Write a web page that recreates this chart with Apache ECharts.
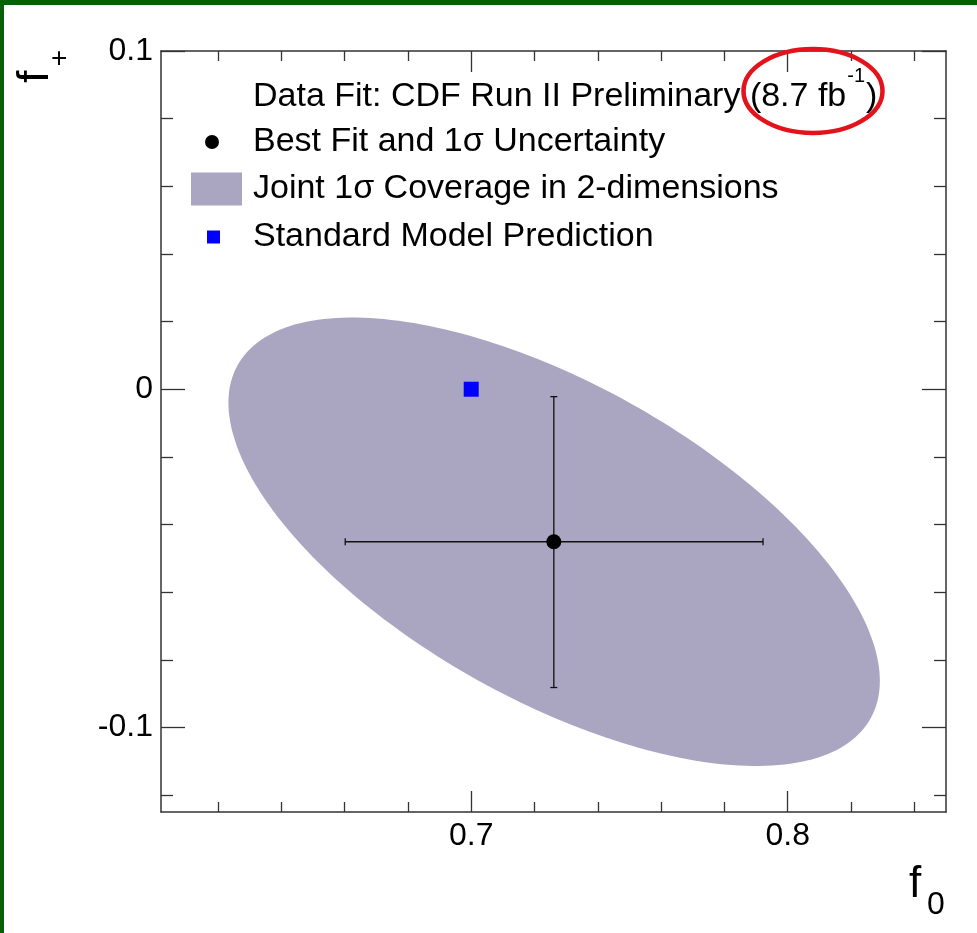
<!DOCTYPE html>
<html><head><meta charset="utf-8">
<script src="https://cdn.jsdelivr.net/npm/echarts@6.0.0/dist/echarts.min.js"></script>
<style>html,body{margin:0;padding:0;background:#fff}#c{width:977px;height:933px}</style>
</head><body><div id="c"></div>
<script>
// ---- axis ranges and ticks ----
const xRange = [0.602, 0.85];
const yRange = [-0.125, 0.1];
const xMajorTicks = [0.7, 0.8];
const xTickLabels = ['0.7', '0.8'];
const xMinorTicks = [0.62, 0.64, 0.66, 0.68, 0.72, 0.74, 0.76, 0.78, 0.82, 0.84];
const yMajorTicks = [-0.1, 0, 0.1];
const yTickLabels = ['-0.1', '0', '0.1'];
const yMinorTicks = [-0.12, -0.08, -0.06, -0.04, -0.02, 0.02, 0.04, 0.06, 0.08];

// ---- data ----
const bestFit = [0.7261, -0.0451];          // [f0, f+]
const bestFitErrX = [0.6602, 0.7922];       // f0 1σ low/high
const bestFitErrY = [-0.0882, -0.0022];     // f+ 1σ low/high
const ellipseCenter = [0.7262, -0.0451];    // joint 1σ region centre
const ellipseHalfExtent = [0.1029, 0.0663]; // half extents along f0, f+
const ellipseCorrelation = -0.62;           // f0–f+ correlation
const smPrediction = [0.7, 0.0];

const seriesNames = ['Best Fit and 1σ Uncertainty', 'Joint 1σ Coverage in 2-dimensions', 'Standard Model Prediction'];
const headerText = 'Data Fit: CDF Run II Preliminary (8.7 fb';
const headerSup = '-1';
const headerEnd = ')';

const FONT = "'Liberation Sans', Arial, Helvetica, sans-serif";
const ellipseColor = '#aaa6c1';
const axisColor = '#333';
const LFS = 34; // legend font size

function measure(txt, size) {
  const ctx = document.createElement('canvas').getContext('2d');
  ctx.font = size + 'px ' + FONT;
  return ctx.measureText(txt).width;
}

function xAxisDef(pos, ticks, len, showLine, labels) {
  return {
    type: 'value', gridIndex: 0, position: pos, min: xRange[0], max: xRange[1],
    splitLine: {show: false},
    axisLine: {show: showLine, onZero: false, lineStyle: {color: axisColor, width: 1.5}},
    axisTick: {show: true, inside: true, length: len, customValues: ticks, lineStyle: {color: axisColor, width: 1.3}},
    axisLabel: labels ? {show: true, customValues: xMajorTicks, margin: 8, fontSize: 32, fontFamily: FONT, color: '#000',
      formatter: v => { const i = xMajorTicks.findIndex(t => Math.abs(t - v) < 1e-9); return i >= 0 ? xTickLabels[i] : ''; }} : {show: false}
  };
}
function yAxisDef(pos, ticks, len, showLine, labels) {
  return {
    type: 'value', gridIndex: 0, position: pos, min: yRange[0], max: yRange[1],
    splitLine: {show: false},
    axisLine: {show: showLine, onZero: false, lineStyle: {color: axisColor, width: 1.5}},
    axisTick: {show: true, inside: true, length: len, customValues: ticks, lineStyle: {color: axisColor, width: 1.3}},
    axisLabel: labels ? {show: true, customValues: yMajorTicks, margin: 8, fontSize: 32, fontFamily: FONT, color: '#000',
      showMinLabel: true, showMaxLabel: true,
      formatter: v => { const i = yMajorTicks.findIndex(t => Math.abs(t - v) < 1e-9); return i >= 0 ? yTickLabels[i] : ''; }} : {show: false}
  };
}

const chart = echarts.init(document.getElementById('c'), null, {renderer: 'canvas'});

const hx = 253, hy = 97;
const w1 = measure(headerText, LFS);
const w2 = measure(headerSup, 20);

const legendText = {fontSize: LFS, fontFamily: FONT, color: '#000', lineHeight: 38};

const option = {
  animation: false,
  backgroundColor: '#fff',
  grid: {left: 161, top: 51, width: 785, height: 761, containLabel: false, outerBoundsMode: 'none'},
  xAxis: [
    xAxisDef('bottom', xMajorTicks, 21, true, true),
    xAxisDef('bottom', xMinorTicks, 10, false, false),
    xAxisDef('top', xMajorTicks, 21, true, false),
    xAxisDef('top', xMinorTicks, 10, false, false)
  ],
  yAxis: [
    yAxisDef('left', yMajorTicks, 24, true, true),
    yAxisDef('left', yMinorTicks, 12, false, false),
    yAxisDef('right', yMajorTicks, 24, true, false),
    yAxisDef('right', yMinorTicks, 12, false, false)
  ],
  legend: [
    {data: [{name: seriesNames[0], icon: 'circle'}], left: 205, top: 123, itemWidth: 14, itemHeight: 14, padding: 0,
     selectedMode: false, textStyle: Object.assign({}, legendText, {padding: [0, 0, 0, 29]})},
    {data: [{name: seriesNames[1], icon: 'rect'}], left: 191, top: 170, itemWidth: 51, itemHeight: 33, padding: 0,
     selectedMode: false, symbolKeepAspect: false, textStyle: Object.assign({}, legendText, {padding: [0, 0, 0, 6]})},
    {data: [{name: seriesNames[2], icon: 'rect'}], left: 207, top: 218, itemWidth: 13, itemHeight: 13, padding: 0,
     selectedMode: false, textStyle: Object.assign({}, legendText, {padding: [0, 0, 0, 28]})}
  ],
  graphic: [
    {type: 'rect', shape: {x: 0, y: 0, width: 977, height: 5}, style: {fill: '#075f07'}, z: 100},
    {type: 'rect', shape: {x: 0, y: 0, width: 4, height: 933}, style: {fill: '#075f07'}, z: 100},
    {type: 'text', x: hx, y: hy, style: {text: headerText, font: LFS + 'px ' + FONT, fill: '#000', verticalAlign: 'middle', align: 'left'}},
    {type: 'text', x: hx + w1 + 1, y: hy - 21, style: {text: headerSup, font: '20px ' + FONT, fill: '#000', verticalAlign: 'middle', align: 'left'}},
    {type: 'text', x: hx + w1 + w2 + 2, y: hy, style: {text: headerEnd, font: LFS + 'px ' + FONT, fill: '#000', verticalAlign: 'middle', align: 'left'}},
    {type: 'ellipse', shape: {cx: 813, cy: 91, rx: 69.5, ry: 42}, style: {fill: 'none', stroke: '#e3121b', lineWidth: 4.5}, z: 50},
    // axis titles
    {type: 'text', x: 36, y: 83, rotation: Math.PI / 2, style: {text: 'f', font: '45px ' + FONT, fill: '#000', align: 'left', verticalAlign: 'middle'}},
    {type: 'text', x: 60, y: 58, rotation: Math.PI / 2, style: {text: '+', font: '28px ' + FONT, fill: '#000', align: 'center', verticalAlign: 'middle'}},
    {type: 'text', x: 909, y: 885, style: {text: 'f', font: '44px ' + FONT, fill: '#000', align: 'left', verticalAlign: 'middle'}},
    {type: 'text', x: 927, y: 905, style: {text: '0', font: '32px ' + FONT, fill: '#000', align: 'left', verticalAlign: 'middle'}}
  ],
  series: [
    {
      name: seriesNames[1], type: 'custom', xAxisIndex: 0, yAxisIndex: 0, silent: true,
      itemStyle: {color: ellipseColor},
      encode: {x: 0, y: 1},
      data: [[ellipseCenter[0], ellipseCenter[1], ellipseHalfExtent[0], ellipseHalfExtent[1], ellipseCorrelation]],
      renderItem: function (params, api) {
        const cx = api.value(0), cy = api.value(1), ax = api.value(2), ay = api.value(3), rho = api.value(4);
        const s = Math.sqrt(1 - rho * rho);
        const pts = [];
        for (let i = 0; i < 240; i++) {
          const t = 2 * Math.PI * i / 240;
          pts.push(api.coord([cx + ax * Math.cos(t), cy + ay * (rho * Math.cos(t) + s * Math.sin(t))]));
        }
        return {type: 'polygon', shape: {points: pts}, style: {fill: ellipseColor}};
      }
    },
    {
      name: 'errbars', type: 'custom', xAxisIndex: 0, yAxisIndex: 0, silent: true,
      encode: {x: [0, 2, 3], y: [1, 4, 5]},
      data: [[bestFit[0], bestFit[1], bestFitErrX[0], bestFitErrX[1], bestFitErrY[0], bestFitErrY[1]]],
      renderItem: function (params, api) {
        const l = api.coord([api.value(2), api.value(1)]);
        const r = api.coord([api.value(3), api.value(1)]);
        const b = api.coord([api.value(0), api.value(4)]);
        const t = api.coord([api.value(0), api.value(5)]);
        const st = {stroke: '#111', lineWidth: 1.3};
        const cap = 3.5;
        return {type: 'group', children: [
          {type: 'line', shape: {x1: l[0], y1: l[1], x2: r[0], y2: r[1]}, style: st},
          {type: 'line', shape: {x1: b[0], y1: b[1], x2: t[0], y2: t[1]}, style: st},
          {type: 'line', shape: {x1: l[0], y1: l[1] - cap, x2: l[0], y2: l[1] + cap}, style: st},
          {type: 'line', shape: {x1: r[0], y1: r[1] - cap, x2: r[0], y2: r[1] + cap}, style: st},
          {type: 'line', shape: {x1: b[0] - cap, y1: b[1], x2: b[0] + cap, y2: b[1]}, style: st},
          {type: 'line', shape: {x1: t[0] - cap, y1: t[1], x2: t[0] + cap, y2: t[1]}, style: st}
        ]};
      }
    },
    {
      name: seriesNames[0], type: 'scatter', xAxisIndex: 0, yAxisIndex: 0, silent: true,
      symbol: 'circle', symbolSize: 15, itemStyle: {color: '#000', opacity: 1},
      data: [bestFit]
    },
    {
      name: seriesNames[2], type: 'scatter', xAxisIndex: 0, yAxisIndex: 0, silent: true,
      symbol: 'rect', symbolSize: 15, itemStyle: {color: '#0000ff', opacity: 1},
      data: [smPrediction]
    }
  ]
};
chart.setOption(option);
</script>
</body></html>
